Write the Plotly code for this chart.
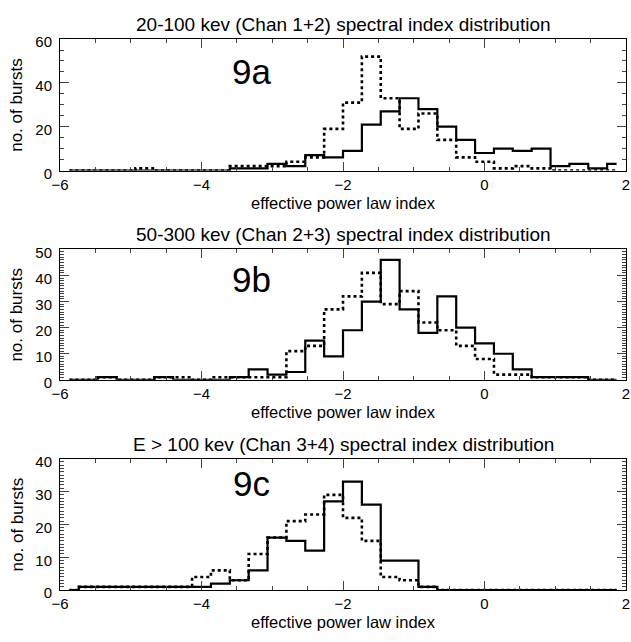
import numpy as np
import plotly.graph_objects as go

# Bin layout: 30 bins from -6 to 2
bin_lo = -6.0
bin_hi = 2.0
n_bins = 30
bin_w = (bin_hi - bin_lo) / n_bins
centers = [bin_lo + (i + 0.5) * bin_w for i in range(n_bins)]

# Panel 9a: 20-100 keV
a_solid = [0, 0, 0, 0, 0, 0, 0, 0, 0, 1, 1, 3, 2, 7, 6, 9, 21, 27, 33, 28, 20, 14, 8, 10, 9, 10, 2, 3, 1, 3]
a_dot   = [0, 0, 0, 0, 1, 0, 0, 0, 0, 2, 2, 2, 4, 6, 19, 31, 52, 33, 19, 26, 14, 6, 4, 1, 2, 1, 0, 0, 0, 0]

# Panel 9b: 50-300 keV
b_solid = [0, 0, 1, 0, 0, 1, 0, 0, 0, 1, 4, 2, 3, 15, 9, 19, 30, 46, 27, 18, 32, 20, 14, 10, 4, 1, 1, 1, 0, 0]
b_dot   = [0, 0, 1, 0, 0, 1, 1, 0, 1, 1, 1, 1, 11, 13, 27, 32, 41, 29, 34, 22, 19, 13, 8, 2, 2, 1, 1, 1, 0, 0]

# Panel 9c: E > 100 keV
c_solid = [0, 1, 1, 1, 1, 1, 1, 1, 2, 3, 6, 16, 15, 12, 27, 33, 26, 9, 9, 1, 0, 0, 0, 0, 0, 0, 0, 0, 0, 0]
c_dot   = [0, 1, 1, 1, 1, 1, 1, 4, 6, 3, 11, 16, 21, 23, 29, 22, 15, 4, 3, 1, 0, 0, 0, 0, 0, 0, 0, 0, 0, 0]

titles = ["20-100 kev (Chan 1+2) spectral index distribution",
          "50-300 kev (Chan 2+3) spectral index distribution",
          "E > 100 kev (Chan 3+4) spectral index distribution"]
labels = ["9a", "9b", "9c"]
y_max = [60, 50, 40]
y_major = [20, 10, 10]
y_minor = [5, 1, 1]
x_ticks = [-6, -4, -2, 0, 2]

H = 642
W = 631
ML, MR = 60, 5
PW = W - ML - MR
# pixel boxes (top, bottom)
boxes = [(34, 169), (250, 384), (465, 600)]
label_pos = [0.75, 0.77, 0.81]

FONT = "Liberation Sans, Arial, Helvetica, sans-serif"

fig = go.Figure()
series = [(a_solid, a_dot), (b_solid, b_dot), (c_solid, c_dot)]

layout = dict(
    width=W, height=H,
    margin=dict(l=ML, r=MR, t=0, b=0),
    paper_bgcolor="white", plot_bgcolor="white",
    showlegend=False,
    font=dict(family=FONT, color="black", size=15),
)
annotations = []

for k in range(3):
    solid, dot = series[k]
    sfx = "" if k == 0 else str(k + 1)
    xa = "x" + sfx
    ya = "y" + sfx
    fig.add_trace(go.Scatter(x=centers, y=dot, mode="lines", xaxis=xa, yaxis=ya,
                             line=dict(color="black", width=2.6, dash="dot", shape="hvh")))
    fig.add_trace(go.Scatter(x=centers, y=solid, mode="lines", xaxis=xa, yaxis=ya,
                             line=dict(color="black", width=2.2, shape="hvh")))
    top, bot = boxes[k]
    dom = [1 - bot / H, 1 - top / H]
    layout["xaxis" + sfx] = dict(
        domain=[0, 1], anchor=ya, range=[bin_lo, bin_hi],
        tickvals=x_ticks, ticks="inside", ticklen=9, tickwidth=1,
        minor=dict(dtick=0.5, ticks="inside", ticklen=4, tickwidth=1),
        showline=True, linecolor="black", linewidth=1, mirror="ticks",
        showgrid=False, zeroline=False, tickfont=dict(size=15, family=FONT),
        ticklabelstandoff=0,
    )
    layout["yaxis" + sfx] = dict(
        domain=dom, anchor=xa, range=[0, y_max[k]],
        dtick=y_major[k], tick0=0, ticks="inside", ticklen=9, tickwidth=1,
        minor=dict(dtick=y_minor[k], ticks="inside", ticklen=4, tickwidth=1),
        showline=True, linecolor="black", linewidth=1, mirror="ticks",
        showgrid=False, zeroline=False, tickfont=dict(size=15, family=FONT),
        ticklabelshift=3, ticklabelstandoff=4,
    )
    annotations.append(dict(text="no. of bursts", xref="paper", yref="paper",
                            x=(17 - ML) / PW, y=1 - (top + bot) / 2 / H, showarrow=False,
                            textangle=-90, xanchor="center", yanchor="middle",
                            font=dict(size=17, family=FONT)))
    annotations.append(dict(text=titles[k], xref="paper", yref="paper",
                            x=0.5, y=1 - (top - 15) / H, showarrow=False,
                            xanchor="center", yanchor="middle",
                            font=dict(size=19, family=FONT)))
    annotations.append(dict(text="effective power law index", xref="paper", yref="paper",
                            x=0.5, y=1 - (bot + 33) / H, showarrow=False,
                            xanchor="center", yanchor="middle",
                            font=dict(size=16.5, family=FONT)))
    annotations.append(dict(text=labels[k], xref=xa + " domain", yref=ya + " domain",
                            x=0.339, y=label_pos[k], showarrow=False,
                            xanchor="center", yanchor="middle",
                            font=dict(size=35, family=FONT)))

layout["annotations"] = annotations
fig.update_layout(**layout)
fig.write_html("out.html", config={"displayModeBar": False},
               post_script="document.body.style.margin='0';")
